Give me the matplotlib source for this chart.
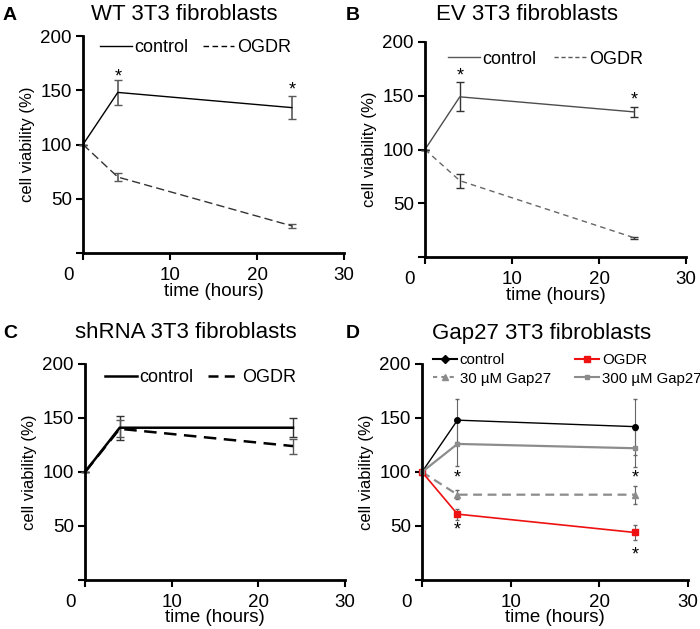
import matplotlib
matplotlib.use("Agg")
import matplotlib.pyplot as plt
import matplotlib.transforms as mtransforms
from matplotlib.lines import Line2D

plt.rcParams["font.family"] = ["Liberation Sans", "DejaVu Sans"]

# time points (hours)
t = [0, 4, 24]

# A: WT
a_ctrl = [100, 148, 134]
a_ctrl_err = [0, 11.5, 10.5]
a_ogdr = [100, 70, 25]
a_ogdr_err = [0, 3.5, 2]

# B: EV
b_ctrl = [100, 149, 135]
b_ctrl_err = [0, 13.5, 5]
b_ogdr = [100, 71, 18]
b_ogdr_err = [0, 6.5, 1]

# C: shRNA
c_ctrl = [100, 141, 141]
c_ctrl_err = [0, 11, 9]
c_ogdr = [100, 140, 124]
c_ogdr_err = [0, 8, 7]

# D: Gap27
d_ctrl = [100, 148, 142]
d_ctrl_err = [0, 20, 26]
d_ogdr = [100, 61, 44]
d_ogdr_err = [0, 5, 7]
d_g30 = [100, 79, 79]
d_g30_err = [0, 4, 8.5]
d_g300 = [100, 126, 122]
d_g300_err = [0, 20, 17]

fig = plt.figure(figsize=(7.0, 6.29), dpi=100)


def px_axes(l, r, top, bot):
    W, H = 700, 629
    return fig.add_axes([l / W, 1 - bot / H, (r - l) / W, (bot - top) / H])


def style(ax):
    for s in ("top", "right"):
        ax.spines[s].set_visible(False)
    for s in ("left", "bottom"):
        ax.spines[s].set_linewidth(2)
    ax.set_xlim(0, 30)
    ax.set_ylim(0, 200)
    ax.set_xticks([0, 10, 20, 30])
    ax.set_yticks([0, 50, 100, 150, 200])
    ax.set_yticklabels(["", "50", "100", "150", "200"])
    ax.tick_params(width=1.5, length=5, labelsize=13.5, direction="out", pad=3)
    ax.tick_params(axis="x", pad=5)
    ax.set_xlabel("time (hours)", fontsize=13.5, labelpad=-1)
    ax.set_ylabel("cell viability (%)", fontsize=12, labelpad=4)
    # the "0" on the time axis sits left of the origin
    shift = mtransforms.ScaledTranslation(-15 / 100, 0, fig.dpi_scale_trans)
    lab0 = ax.get_xticklabels()[0]
    lab0.set_transform(lab0.get_transform() + shift)


axA = px_axes(83, 344, 36, 253)
axB = px_axes(425, 686, 42, 257)
axC = px_axes(85, 345, 364, 580)
axD = px_axes(422, 688, 364, 580)
for ax in (axA, axB, axC, axD):
    style(ax)


def two_legend(ax, color, lw, dash, anchor, spacing):
    hs = [Line2D([], [], color=color, lw=lw), Line2D([], [], color=color, lw=lw, ls=dash)]
    ax.legend(hs, ["control", "OGDR"], loc="upper left", bbox_to_anchor=anchor, ncol=2,
              frameon=False, fontsize=13, handlelength=1.75, handletextpad=0.15,
              columnspacing=spacing, borderaxespad=0, borderpad=0)


# Panel A
axA.errorbar(t, a_ctrl, yerr=a_ctrl_err, color="black", lw=1, ecolor="0.35",
             elinewidth=1.2, capsize=3, clip_on=False)
axA.errorbar(t, a_ogdr, yerr=a_ogdr_err, color="0.2", lw=1, ls=(0, (6, 3)), ecolor="0.35",
             elinewidth=1.2, capsize=3, clip_on=False)
for x, y in [(4, 162), (24, 150)]:
    axA.text(x, y, "*", ha="center", va="center", fontsize=13)
two_legend(axA, "black", 1, (0, (4, 2.5)), (0.065, 0.985), 0.8)

# Panel B
axB.errorbar(t, b_ctrl, yerr=b_ctrl_err, color="0.3", lw=1, ecolor="0.2",
             elinewidth=1, capsize=3, clip_on=False)
axB.errorbar(t, b_ogdr, yerr=b_ogdr_err, color="0.4", lw=1, ls=(0, (4, 3)), ecolor="0.2",
             elinewidth=1, capsize=3, clip_on=False)
for x, y in [(4, 168), (24, 146)]:
    axB.text(x, y, "*", ha="center", va="center", fontsize=13)
two_legend(axB, "0.35", 1, (0, (3, 2)), (0.088, 0.96), 1.0)

# Panel C
axC.errorbar(t, c_ctrl, yerr=c_ctrl_err, color="black", lw=1.8, ecolor="0.2",
             elinewidth=1, capsize=3, clip_on=False)
axC.errorbar(t, c_ogdr, yerr=c_ogdr_err, color="black", lw=1.8, ls=(0, (5, 3)), ecolor="0.35",
             elinewidth=1, capsize=3, clip_on=False)
two_legend(axC, "black", 1.8, (0, (4, 2.5)), (0.077, 0.975), 0.8)

# Panel D
axD.errorbar(t, d_ctrl, yerr=d_ctrl_err, color="black", lw=1, marker="o", ms=4,
             ecolor="0.4", elinewidth=0.8, capsize=1.5, clip_on=False)
axD.errorbar(t, d_g30, yerr=d_g30_err, color="0.55", lw=1.6, ls=(0, (4, 2.5)), marker="^", ms=5,
             ecolor="0.4", elinewidth=0.8, capsize=1.5, clip_on=False)
axD.errorbar(t, d_ogdr, yerr=d_ogdr_err, color="#ee1111", lw=1.2, marker="s", ms=5,
             ecolor="0.4", elinewidth=0.8, capsize=1.5, clip_on=False)
axD.errorbar(t, d_g300, yerr=d_g300_err, color="0.55", lw=1.6, marker="s", ms=3.5,
             ecolor="0.4", elinewidth=0.8, capsize=1.5, clip_on=False)
for x, y in [(4, 94), (24, 94), (4, 46), (24, 23)]:
    axD.text(x, y, "*", ha="center", va="center", fontsize=13)
hs = [Line2D([], [], color="black", lw=1.5, marker="D", ms=4.5),
      Line2D([], [], color="0.55", lw=1.5, ls=(0, (2, 2)), marker="^", ms=5),
      Line2D([], [], color="#ee1111", lw=1.5, marker="s", ms=5),
      Line2D([], [], color="0.55", lw=1.5, marker="s", ms=3.5)]
axD.legend(hs, ["control", "30 µM Gap27", "OGDR", "300 µM Gap27"], loc="upper left",
           bbox_to_anchor=(0.04, 1.05), ncol=2, frameon=False, fontsize=10.8,
           handlelength=1.6, handletextpad=0.2, columnspacing=1.6, labelspacing=0.3,
           borderaxespad=0, borderpad=0)

# titles and panel letters
fig.text(184 / 700, 1 - 15 / 629, "WT 3T3 fibroblasts", ha="center", va="center", fontsize=16)
fig.text(527 / 700, 1 - 15 / 629, "EV 3T3 fibroblasts", ha="center", va="center", fontsize=16)
fig.text(186 / 700, 1 - 333 / 629, "shRNA 3T3 fibroblasts", ha="center", va="center", fontsize=16)
fig.text(542 / 700, 1 - 333 / 629, "Gap27 3T3 fibroblasts", ha="center", va="center", fontsize=16)
for letter, x, y in [("A", 3, 15), ("B", 346, 15), ("C", 3, 333), ("D", 346, 333)]:
    fig.text(x / 700, 1 - y / 629, letter, ha="left", va="center", fontsize=14, fontweight="bold")

fig.savefig("out.png", dpi=100)
